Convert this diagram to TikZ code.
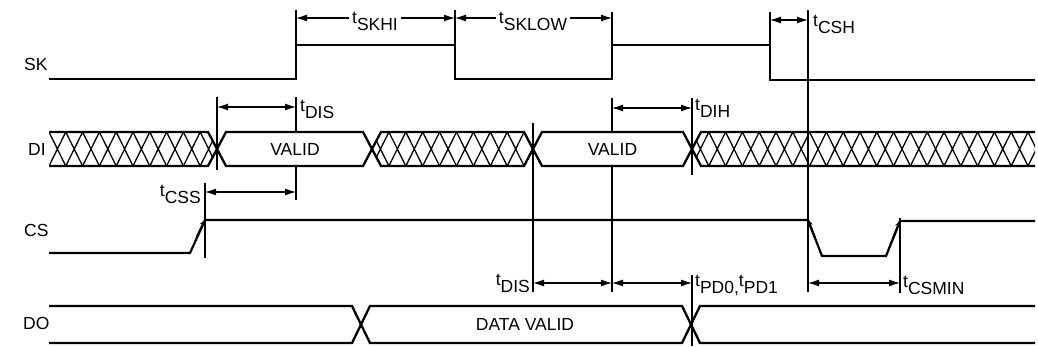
\documentclass[tikz,border=0pt]{standalone}
\usepackage{fontspec}
\setmainfont{Liberation Sans}
\usetikzlibrary{arrows.meta}

% timing parameter name: raised t followed by its subscript
\newcommand{\tpar}[1]{\raisebox{0.4em}{t}#1}

\begin{document}
\begin{tikzpicture}[
        x=1pt, y=-1pt,
        sig/.style={line width=2.2pt, line join=miter},
        bus/.style={line width=2.3pt},
        hatch/.style={line width=1.3pt},
        guide/.style={line width=1.1pt},
        dim/.style={line width=1.2pt, {Latex[length=11pt,width=7pt]}-{Latex[length=11pt,width=7pt]}},
        edgemark/.style={line width=2pt, -{Stealth[length=6pt,width=6pt]}},
        every node/.style={font=\fontsize{17.5}{21}\selectfont, inner sep=1pt}
    ]
        % Page size and background
        \fill[white] (0,0) rectangle (1038,346);
        \useasboundingbox (0,0) rectangle (1038,346);

        % Signal names
        \node[anchor=base west] (sk) at (23,70) {SK};
        \node[anchor=base west] (di) at (27,155) {DI};
        \node[anchor=base west] (cs) at (23,236) {CS};
        \node[anchor=base west] (do) at (22,329) {DO};

        % Thin reference lines
        \draw[guide] (296,10) -- (296,45);
        \draw[guide] (455,10) -- (455,45);
        \draw[guide] (612,12) -- (612,45);
        \draw[guide] (770,12) -- (770,45);
        \draw[guide] (808,10) -- (808,292);
        \draw[guide] (217,97) -- (217,170);
        \draw[guide] (296,97) -- (296,200);
        \draw[guide] (612,98) -- (612,292);
        \draw[guide] (692,98) -- (692,175);
        \draw[guide] (533,123) -- (533,292);
        \draw[guide] (205,183) -- (205,258);
        \draw[guide] (900,218) -- (900,293);
        \draw[guide] (692,275) -- (692,346);

        % SK clock
        \draw[sig] (49,79) -- (296,79) -- (296,45) -- (455,45) -- (455,79) -- (612,79)
            -- (612,45) -- (770,45) -- (770,80) -- (1035,80);

        % DI bus: valid windows hide the reference lines
        \fill[white] (217,149) -- (226,132) -- (363,132) -- (372,149) -- (363,166) -- (226,166) -- cycle;
        \fill[white] (533,149) -- (542,132) -- (683,132) -- (692,149) -- (683,166) -- (542,166) -- cycle;

        % Cross hatching (don't care)
        \begin{scope}
            \clip (49,132) -- (208,132) -- (217,149) -- (208,166) -- (49,166) -- cycle;
            \foreach \i in {0,...,10}
                \draw[hatch] ({49+16.8*\i},132) -- ({49+16.8*(\i+1)},166)
                             ({49+16.8*\i},166) -- ({49+16.8*(\i+1)},132);
        \end{scope}
        \begin{scope}
            \clip (372,149) -- (381,132) -- (524,132) -- (533,149) -- (524,166) -- (381,166) -- cycle;
            \foreach \i in {0,...,9}
                \draw[hatch] ({372+16.9*\i},132) -- ({372+16.9*(\i+1)},166)
                             ({372+16.9*\i},166) -- ({372+16.9*(\i+1)},132);
        \end{scope}
        \begin{scope}
            \clip (692,149) -- (701,132) -- (1035,132) -- (1035,166) -- (701,166) -- cycle;
            \foreach \i in {0,...,20}
                \draw[hatch] ({692+16.8*\i},132) -- ({692+16.8*(\i+1)},166)
                             ({692+16.8*\i},166) -- ({692+16.8*(\i+1)},132);
        \end{scope}

        \draw[bus] (49,132) -- (208,132) -- (226,166) -- (363,166) -- (381,132) -- (524,132)
            -- (542,166) -- (683,166) -- (701,132) -- (1035,132);
        \draw[bus] (49,166) -- (208,166) -- (226,132) -- (363,132) -- (381,166) -- (524,166)
            -- (542,132) -- (683,132) -- (701,166) -- (1035,166);
        \node (valid1) at (295,149) {VALID};
        \node (valid2) at (612.5,149) {VALID};

        % CS chip select with marked edges
        \draw[sig] (49,253) -- (190,253) -- (205,220) -- (808,220) -- (822,256) -- (886,256)
            -- (900,221) -- (1035,221);
        \draw[edgemark] (197,236.5) -- (205,220);
        \draw[edgemark] (815,238) -- (808,220);
        \draw[edgemark] (893,238.5) -- (900,221);

        % DO output bus
        \draw[bus] (49,306) -- (352,306) -- (370,343) -- (682,343) -- (700,306) -- (1035,306);
        \draw[bus] (49,343) -- (352,343) -- (370,306) -- (682,306) -- (700,343) -- (1035,343);
        \node (datavalid) at (525,324.5) {DATA VALID};

        % Timing arrows and their labels
        \draw[dim] (296,18) -- (455,18);
        \draw[dim] (455,18) -- (612,18);
        \node[anchor=base, fill=white, inner xsep=3pt] (tskhi) at (375,30) {\tpar{SKHI}};
        \node[anchor=base, fill=white, inner xsep=3pt] (tsklow) at (533,30) {\tpar{SKLOW}};

        \draw[dim] (770,20) -- (808,20);
        \node[anchor=base west] (tcsh) at (812,33) {\tpar{CSH}};

        \draw[dim] (217,107) -- (296,107);
        \node[anchor=base west] (tdis) at (299,118) {\tpar{DIS}};

        \draw[dim] (205,192) -- (296,192);
        \node[anchor=base east] (tcss) at (202,203) {\tpar{CSS}};

        \draw[dim] (612,108) -- (692,108);
        \node[anchor=base west] (tdih) at (694,117) {\tpar{DIH}};

        \draw[dim] (533,283) -- (612,283);
        \node[anchor=base east] (tdis2) at (531,292) {\tpar{DIS}};

        \draw[dim] (612,283) -- (692,283);
        \node[anchor=base west] (tpd) at (694,293) {\tpar{PD0},\tpar{PD1}};

        \draw[dim] (808,283) -- (900,283);
        \node[anchor=base west] (tcsmin) at (902,294) {\tpar{CSMIN}};
    \end{tikzpicture}
\end{document}
